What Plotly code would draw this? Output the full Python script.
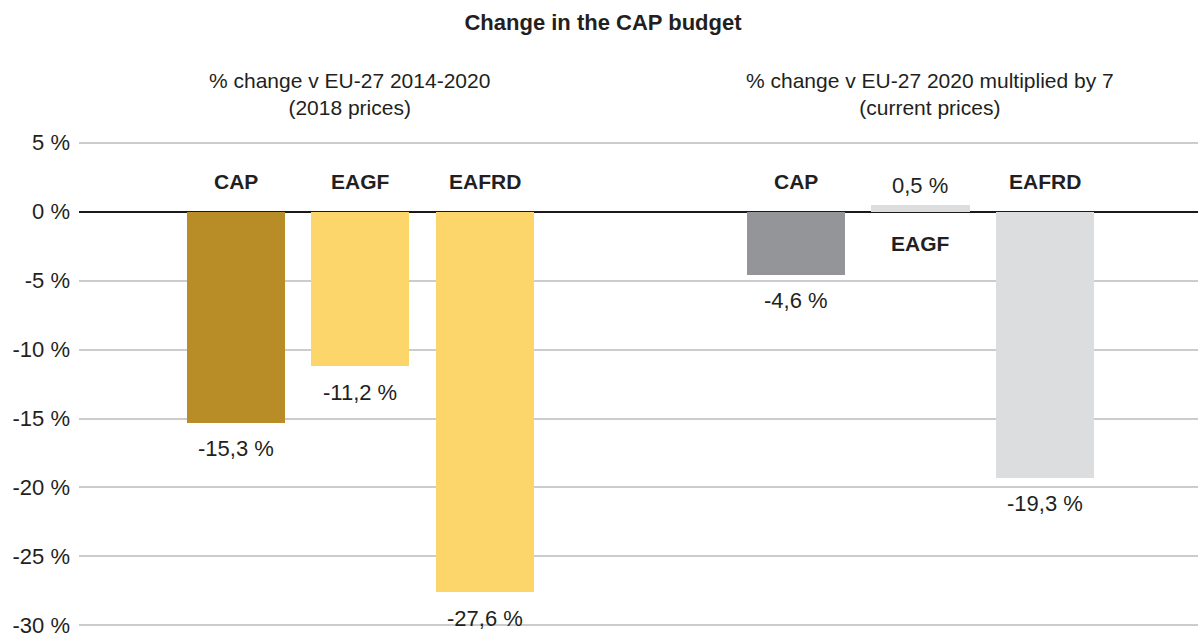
import plotly.graph_objects as go

names = ["CAP", "EAGF", "EAFRD", "CAP", "EAGF", "EAFRD"]
values = [-15.3, -11.2, -27.6, -4.6, 0.5, -19.3]
labels = ["-15,3 %", "-11,2 %", "-27,6 %", "-4,6 %", "0,5 %", "-19,3 %"]
xpos = [0, 1, 2, 4.5, 5.5, 6.5]
colors = ["#b88c26", "#fdd66b", "#fdd66b", "#939598", "#dcdddf", "#dcdddf"]
yticks = [5, 0, -5, -10, -15, -20, -25, -30]
ytick_text = ["5 %", "0 %", "-5 %", "-10 %", "-15 %", "-20 %", "-25 %", "-30 %"]
title = "Change in the CAP budget"
subtitles = ["% change v EU-27 2014-2020<br>(2018 prices)",
             "% change v EU-27 2020 multiplied by 7<br>(current prices)"]
subtitle_x = [349, 930]

FONT = "Liberation Sans, Arial, sans-serif"
TXT = "#231f20"

fig = go.Figure(go.Bar(x=xpos, y=values, marker_color=colors, width=0.79,
                       marker_line_width=0, hoverinfo="skip"))

ann = []
for x, v, n, lab in zip(xpos, values, names, labels):
    if v < 0:
        ann.append(dict(x=x, y=0, text=f"<b>{n}</b>", yshift=30, yanchor="middle",
                        showarrow=False, font=dict(size=21, color=TXT, family=FONT)))
        ann.append(dict(x=x, y=v, text=lab, yshift=-26, yanchor="middle",
                        showarrow=False, font=dict(size=22, color=TXT, family=FONT)))
    else:
        ann.append(dict(x=x, y=0, text=f"<b>{n}</b>", yshift=-32, yanchor="middle",
                        showarrow=False, font=dict(size=21, color=TXT, family=FONT)))
        ann.append(dict(x=x, y=v, text=lab, yshift=19, yanchor="middle",
                        showarrow=False, font=dict(size=22, color=TXT, family=FONT)))

for sx, text in zip(subtitle_x, subtitles):
    ann.append(dict(xref="paper", yref="paper", x=(sx - 79) / 1119, xanchor="center",
                    y=1, yshift=(136.5 - 93), yanchor="middle",
                    text=text, showarrow=False,
                    font=dict(size=21, color=TXT, family=FONT)))

fig.update_layout(
    width=1198, height=634,
    margin=dict(l=79, r=0, t=136.5, b=2.5, autoexpand=False),
    paper_bgcolor="white", plot_bgcolor="white",
    title=dict(text=f"<b>{title}</b>", x=603 / 1198, xanchor="center",
               y=1 - 22 / 634, yanchor="middle",
               font=dict(size=22, color=TXT, family=FONT)),
    xaxis=dict(range=[-1.26, 7.73], showticklabels=False, showgrid=False,
               zeroline=False, showline=False, fixedrange=True, automargin=False),
    yaxis=dict(range=[-30.4, 5.4], tickvals=yticks, ticktext=ytick_text,
               showgrid=True, gridcolor="#cccccc", gridwidth=2,
               zeroline=True, zerolinecolor="#1a1a1a", zerolinewidth=2,
               showline=False, ticks="", ticklabelstandoff=8,
               ticklabeloverflow="allow", automargin=False,
               tickfont=dict(size=22, color=TXT, family=FONT)),
    annotations=ann,
    showlegend=False,
    bargap=0,
)

fig.write_html("out.html")
